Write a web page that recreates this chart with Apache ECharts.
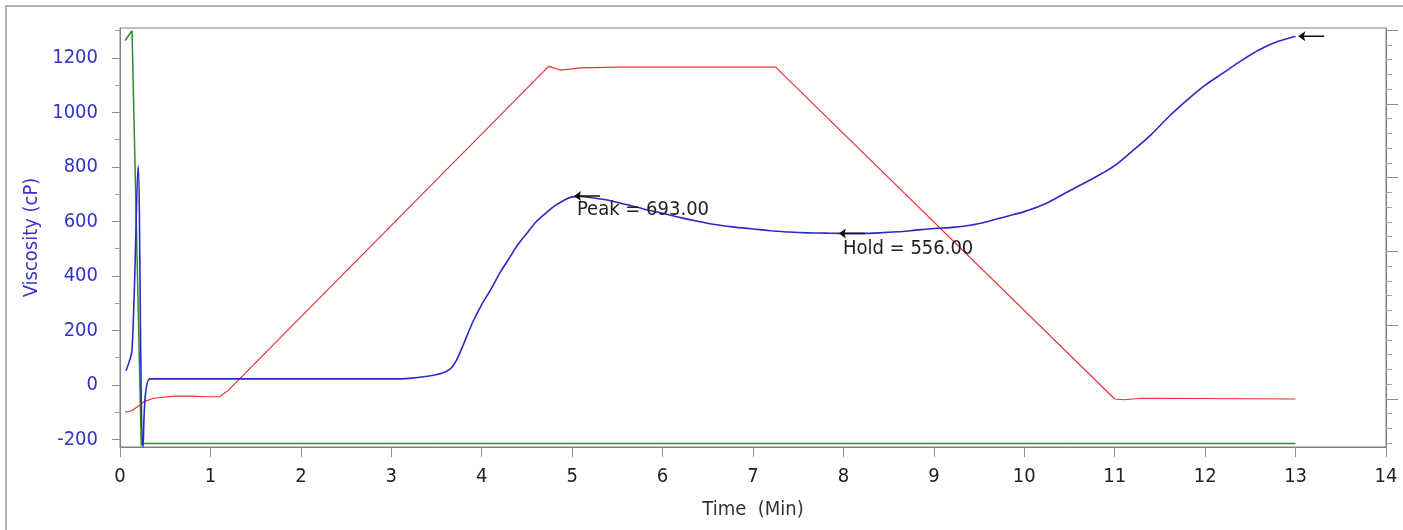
<!DOCTYPE html>
<html><head><meta charset="utf-8">
<script src="https://cdn.jsdelivr.net/npm/echarts@6/dist/echarts.min.js"></script>
<style>html,body{margin:0;padding:0;background:#fff}#c{width:1403px;height:530px}</style>
</head><body><div id="c"></div>
<script>
// ---- data ----
const viscTime  = [0.066,0.133,0.2,0.255,0.33,1.0,2.0,3.0,3.2,3.4,3.55,3.65,3.72,3.8,3.9,4.0,4.1,4.2,4.3,4.4,4.5,4.6,4.7,4.8,4.9,5.0,5.1,5.2,5.4,5.6,5.8,6.0,6.2,6.4,6.6,6.8,7.0,7.2,7.4,7.6,7.8,8.0,8.2,8.4,8.6,8.8,9.0,9.2,9.4,9.6,9.8,10.0,10.2,10.4,10.6,10.8,11.0,11.2,11.4,11.6,11.8,12.0,12.2,12.4,12.6,12.8,13.0];
const viscValue = [52,129,805,-228,22,22,22,22,24,32,42,58,90,150,230,295,350,410,463,515,557,598,628,655,676,690,692,688,678,662,645,630,614,600,588,579,572,566,561,558,557,556,556,558,562,568,574,578,586,600,618,636,660,694,730,765,805,860,918,985,1045,1100,1145,1190,1230,1260,1280];
const tempTime  = [0.055,0.13,0.2,0.26,0.37,0.6,0.8,0.95,1.1,1.2,4.74,4.87,5.1,5.5,7.25,11.0,11.1,11.3,13.0];
const tempValue = [48.2,48.4,49.0,49.6,50.1,50.4,50.4,50.3,50.3,51.2,95.1,94.6,94.9,95.0,95.0,50.0,49.9,50.1,50.0];
const speedTime  = [0.055,0.133,0.235,0.26,13.0];
const speedValue = [1264,1300,-222,-215,-215]; // drawn on the viscosity scale
const xTicks = [0,1,2,3,4,5,6,7,8,9,10,11,12,13,14];
const viscMajorTicks = [-200,0,200,400,600,800,1000,1200];
const viscMinorTicks = [-100,100,300,500,700,900,1100,1300];
const tempMajorTicks = [50,60,70,80,90,100];
const tempMinorTicks = [44,46,48,52,54,56,58,62,64,66,68,72,74,76,78,82,84,86,88,92,94,96,98];
const peakPoint = {time:5.02, value:693, label:'Peak = 693.00'};
const holdPoint = {time:7.95, value:556, label:'Hold = 556.00'};
const endPoint  = {time:13.03, value:1280};

const zip = (a,b) => a.map((v,i)=>[v,b[i]]);
const FONT = '"DejaVu Sans Condensed","Liberation Sans",sans-serif';
const BLUE_TXT = '#3434c4';
const AXIS = '#808080';
const arrow = 'path://M0,5 L7,0.5 L5.5,5 L7,9.5 Z M5,4.3 L26,4.3 L26,5.7 L5,5.7 Z';

function arrowMark(p){
  return {coord:[p.time,p.value], symbol:arrow, symbolSize:[26,10], symbolOffset:[13,0], symbolKeepAspect:false,
          itemStyle:{color:'#111'}, label:{show:false}};
}
function textMark(p,dist,dy){
  return {coord:[p.time,p.value], symbol:'circle', symbolSize:0,
          label:{show:true, formatter:p.label, position:'right', distance:dist, offset:[0,dy],
                 color:'#222', fontSize:20, fontFamily:FONT}};
}

const chart = echarts.init(document.getElementById('c'), null, {renderer:'canvas'});
chart.setOption({
  animation:false,
  backgroundColor:'#ffffff',
  textStyle:{fontFamily:FONT},
  graphic:[{type:'rect', shape:{x:6,y:6,width:1420,height:540}, style:{fill:'none', stroke:'#aab4be', lineWidth:2}, z:-1}],
  grid:{left:120, right:17, top:28, bottom:83, show:true, borderColor:AXIS, borderWidth:1, backgroundColor:'#fff'},
  xAxis:{type:'value', min:xTicks[0], max:xTicks[xTicks.length-1], interval:1,
    axisLine:{show:true, onZero:false, lineStyle:{color:AXIS}},
    axisTick:{show:true, length:10, lineStyle:{color:'#909090'}},
    axisLabel:{margin:20, fontSize:20, color:'#222', fontFamily:FONT},
    splitLine:{show:false},
    name:'Time  (Min)', nameLocation:'middle', nameGap:53,
    nameTextStyle:{fontSize:20, color:'#333', fontFamily:FONT}},
  yAxis:[
    {type:'value', min:-228, max:1310, position:'left',
     axisLine:{show:true, onZero:false, lineStyle:{color:AXIS}},
     axisTick:{show:true, length:8, customValues:viscMajorTicks, lineStyle:{color:'#909090'}},
     axisLabel:{customValues:viscMajorTicks, formatter:(v)=>String(v), margin:22, fontSize:20, color:BLUE_TXT, fontFamily:FONT},
     splitLine:{show:false},
     name:'Viscosity (cP)', nameLocation:'middle', nameGap:77, nameRotate:90,
     nameTextStyle:{fontSize:20, color:BLUE_TXT, fontFamily:FONT}},
    {type:'value', min:-228, max:1310, position:'left',
     axisLine:{show:false}, axisLabel:{show:false}, splitLine:{show:false},
     axisTick:{show:true, length:5, customValues:viscMinorTicks, lineStyle:{color:'#a0a0a0'}}},
    {type:'value', min:43.49, max:100.3, position:'right',
     axisLine:{show:true, onZero:false, lineStyle:{color:AXIS}}, axisLabel:{show:false}, splitLine:{show:false},
     axisTick:{show:true, length:12, customValues:tempMajorTicks, lineStyle:{color:'#909090'}}},
    {type:'value', min:43.49, max:100.3, position:'right',
     axisLine:{show:false}, axisLabel:{show:false}, splitLine:{show:false},
     axisTick:{show:true, length:6, customValues:tempMinorTicks, lineStyle:{color:'#a0a0a0'}}}
  ],
  series:[
    {type:'line', name:'Speed', yAxisIndex:0, data:zip(speedTime,speedValue), showSymbol:false,
     lineStyle:{color:'#2e8b2e', width:1.5}, itemStyle:{color:'#2e8b2e'}},
    {type:'line', name:'Temp', yAxisIndex:2, data:zip(tempTime,tempValue), showSymbol:false,
     lineStyle:{color:'#ee3030', width:1.2}, itemStyle:{color:'#ee3030'}},
    {type:'line', name:'Visc', yAxisIndex:0, data:zip(viscTime,viscValue), showSymbol:false, smooth:0.3,
     lineStyle:{color:'#2a2ac8', width:1.6}, itemStyle:{color:'#2a2ac8'},
     markPoint:{silent:true, data:[
       arrowMark(peakPoint), textMark(peakPoint,3,14),
       arrowMark(holdPoint), textMark(holdPoint,4,15),
       arrowMark(endPoint)
     ]}}
  ]
});
</script></body></html>
